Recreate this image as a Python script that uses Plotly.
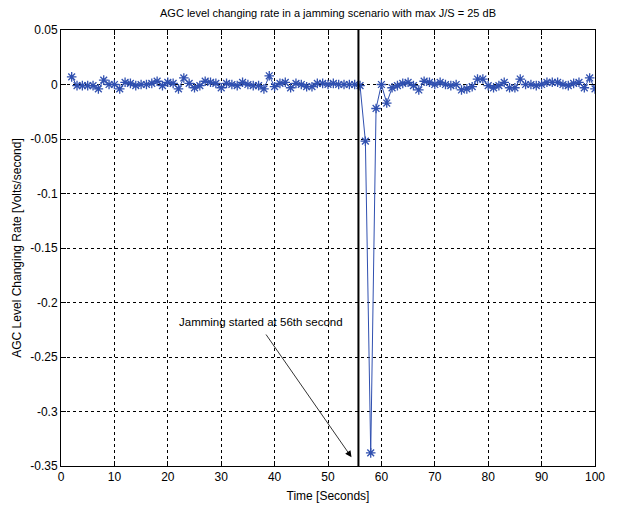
import plotly.graph_objects as go

# Data
time_s = list(range(2, 101))
rate = [
    0.007, -0.001, -0.001, -0.001, -0.001, -0.004, 0.004, 0.000, 0.000,          # 2-10
    -0.004, 0.002, 0.001, -0.001, 0.000, 0.000, 0.001, 0.003, -0.001, 0.002,     # 11-20
    0.001, -0.004, 0.006, 0.001, -0.003, -0.001, 0.003, 0.002, 0.001, -0.003,    # 21-30
    0.001, 0.000, -0.001, 0.002, 0.000, -0.001, -0.001, -0.004, 0.008, -0.002,   # 31-40
    0.001, 0.002, -0.003, 0.001, 0.000, -0.002, -0.002, 0.001, 0.001, 0.000,     # 41-50
    0.001, 0.000, 0.000, 0.000, 0.000, -0.001, -0.052, -0.338, -0.022, 0.000,    # 51-60
    -0.017, -0.003, -0.001, 0.001, 0.002, -0.001, -0.005, 0.003, 0.002, 0.000,   # 61-70
    0.002, 0.000, -0.001, 0.000, -0.005, -0.004, -0.002, 0.005, 0.005, -0.001,   # 71-80
    -0.003, -0.001, 0.002, -0.003, -0.003, 0.005, 0.000, 0.000, -0.001, 0.000,   # 81-90
    0.002, 0.002, 0.002, 0.000, -0.001, 0.001, 0.002, -0.003, 0.006, -0.004,     # 91-100
]
x_ticks = [0, 10, 20, 30, 40, 50, 60, 70, 80, 90, 100]
y_ticks = [0.05, 0, -0.05, -0.1, -0.15, -0.2, -0.25, -0.3, -0.35]
y_ticklabels = ["0.05", "0", "-0.05", "-0.1", "-0.15", "-0.2", "-0.25", "-0.3", "-0.35"]
jam_start = 55.7
title_text = "AGC level changing rate in a jamming scenario with max J/S = 25 dB"
note_text = "Jamming started at 56th second"

FONT = "Liberation Sans Narrow, Arial Narrow, Liberation Sans, Arial, sans-serif"
BLUE = "#3050b0"

fig = go.Figure()
fig.add_trace(go.Scatter(
    x=time_s, y=rate, mode="lines+markers",
    line=dict(color=BLUE, width=1),
    marker=dict(symbol="asterisk-open", size=8, color=BLUE, line=dict(color=BLUE, width=1.3)),
    showlegend=False,
))

fig.add_shape(type="line", x0=jam_start, x1=jam_start, y0=0, y1=1, xref="x", yref="paper",
              line=dict(color="black", width=2))

# annotation text
fig.add_annotation(x=37.5, y=-0.218, xref="x", yref="y", text=note_text, showarrow=False,
                   font=dict(family=FONT, size=11.5, color="black"))
# arrow
fig.add_annotation(x=54.4, y=-0.342, ax=38.2, ay=-0.228, xref="x", yref="y", axref="x", ayref="y",
                   text="", showarrow=True, arrowhead=2, arrowsize=1.6, arrowwidth=0.8,
                   arrowcolor="black")

axis_common = dict(
    showline=True, linecolor="black", linewidth=1, mirror="ticks",
    ticks="inside", ticklen=5, tickcolor="black",
    showgrid=True, gridcolor="black", gridwidth=1, griddash="3px,3px",
    zeroline=False, tickfont=dict(family=FONT, size=12, color="black"),
)

fig.update_xaxes(range=[0, 100], tickvals=x_ticks, ticktext=[str(v) for v in x_ticks],
                 title=dict(text="Time [Seconds]", font=dict(family=FONT, size=12, color="black"), standoff=8),
                 **axis_common)
fig.update_yaxes(range=[-0.35, 0.05], tickvals=y_ticks, ticktext=y_ticklabels,
                 title=dict(text="AGC Level Changing Rate [Volts/second]",
                            font=dict(family=FONT, size=12, color="black"), standoff=6),
                 **axis_common)

fig.update_layout(
    width=617, height=513,
    margin=dict(l=61, r=19, t=30, b=40),
    paper_bgcolor="white", plot_bgcolor="white",
    title=dict(text=title_text, x=0.5, xanchor="center", y=0.975, yanchor="middle",
               xref="paper", font=dict(family=FONT, size=11, color="black")),
)

fig.write_html("out.html")
